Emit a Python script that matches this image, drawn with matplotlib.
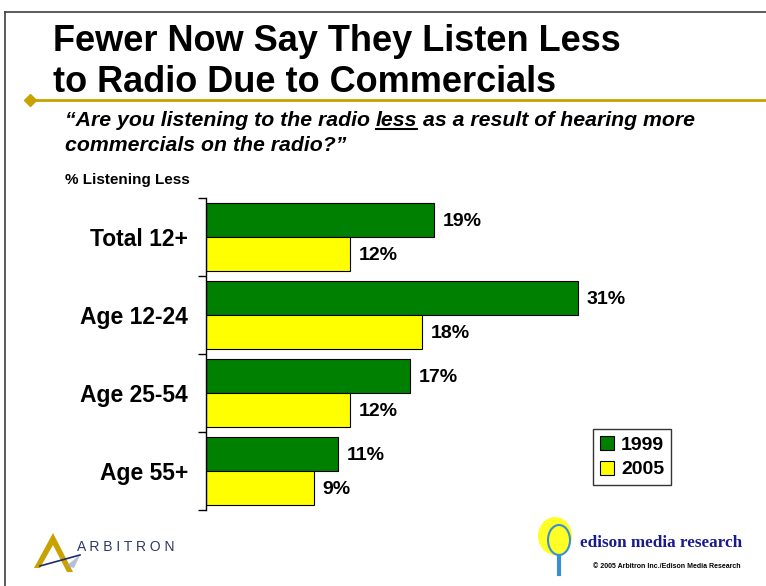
import matplotlib

matplotlib.use("Agg")
import matplotlib.pyplot as plt
from matplotlib.lines import Line2D
from matplotlib.patches import Ellipse, Patch, Polygon
import numpy as np

# Survey results: share saying they listen to radio less because of commercials
categories = ["Total 12+", "Age 12-24", "Age 25-54", "Age 55+"]
pct_1999 = [19, 31, 17, 11]
pct_2005 = [12, 18, 12, 9]
series_labels = ["1999", "2005"]

GREEN = "#008000"
YELLOW = "#FFFF00"
GOLD = "#C8A200"
NAVY = "#1F2A6B"

W, H = 766, 586
plt.rcParams["font.family"] = ["Liberation Sans", "DejaVu Sans"]


def fx(x):
    return x / W


def fy(y):
    return 1 - y / H


fig = plt.figure(figsize=(W / 100, H / 100), dpi=100)
fig.patch.set_facecolor("white")

# slide frame (left and top rule)
fig.add_artist(Line2D([fx(5), fx(5)], [fy(12), fy(586)], color="#404040", lw=1.2))
fig.add_artist(Line2D([fx(5), fx(766)], [fy(12), fy(12)], color="#404040", lw=1.2))

# title
fig.text(fx(53), fy(51), "Fewer Now Say They Listen Less",
         fontsize=26, fontweight="bold", ha="left", va="baseline")
fig.text(fx(53), fy(92), "to Radio Due to Commercials",
         fontsize=26, fontweight="bold", ha="left", va="baseline")

# gold rule with diamond
fig.add_artist(Line2D([fx(30), fx(766)], [fy(100), fy(100)], color=GOLD, lw=2))
fig.add_artist(Line2D([fx(30)], [fy(100)], marker="D", markersize=6, color=GOLD, lw=0))

# question, with "less" underlined
renderer = fig.canvas.get_renderer()
q_kw = dict(fontsize=15.3, fontweight="bold", style="italic",
            ha="left", va="baseline")
part1 = "\u201cAre you listening to the radio"
t1 = fig.text(fx(65), fy(126), part1, **q_kw)
bb1 = t1.get_window_extent(renderer)
probe_a = fig.text(0, 0, "a a", **q_kw)
probe_b = fig.text(0, 0, "aa", **q_kw)
space_w = probe_a.get_window_extent(renderer).width - probe_b.get_window_extent(renderer).width
probe_a.remove()
probe_b.remove()
x_less = bb1.x1 + space_w
t2 = fig.text(x_less / W, fy(126), "less", **q_kw)
bb2 = t2.get_window_extent(renderer)
fig.add_artist(Line2D([bb2.x0 / W, bb2.x1 / W], [fy(129), fy(129)], color="black", lw=1.5))
fig.text((bb2.x1 + space_w) / W, fy(126), "as a result of hearing more", **q_kw)
fig.text(fx(65), fy(151), "commercials on the radio?\u201d", **q_kw)

fig.text(fx(65), fy(184), "% Listening Less", fontsize=11, fontweight="bold",
         ha="left", va="baseline")

# bar chart
ax = fig.add_axes([fx(206), fy(510), 540 / W, 312 / H])
y = np.arange(len(categories))
h = 0.43
bars_a = ax.barh(y - h / 2, pct_1999, height=h, color=GREEN, edgecolor="black", lw=0.8)
bars_b = ax.barh(y + h / 2, pct_2005, height=h, color=YELLOW, edgecolor="black", lw=0.8)
for bars, vals in ((bars_a, pct_1999), (bars_b, pct_2005)):
    for b, v in zip(bars, vals):
        ax.annotate(f"{v}%", (v, b.get_y() + b.get_height() / 2), xytext=(6, -1),
                    textcoords="offset points", ha="left", va="center",
                    fontsize=14, fontweight="bold")

ax.set_xlim(0, 45)
ax.set_ylim(len(categories) - 0.5, -0.5)
for s in ("top", "right", "bottom"):
    ax.spines[s].set_visible(False)
ax.spines["left"].set_linewidth(1)
ax.set_xticks([])
ax.set_yticks(np.arange(-0.5, len(categories), 1.0))
ax.set_yticklabels([])
ax.tick_params(axis="y", which="major", length=6, width=1, direction="out")
ax.set_yticks(y, minor=True)
ax.set_yticklabels(categories, minor=True, fontsize=16.5, fontweight="bold")
ax.tick_params(axis="y", which="minor", length=0, pad=13)
ax.set_facecolor("none")

handles = [Patch(facecolor=GREEN, edgecolor="black", lw=0.8),
           Patch(facecolor=YELLOW, edgecolor="black", lw=0.8)]
leg = fig.legend(handles, series_labels, loc="upper left",
                 bbox_to_anchor=(fx(593), fy(429)), borderaxespad=0,
                 frameon=True, fancybox=False, edgecolor="black",
                 prop={"weight": "bold", "size": 14},
                 handlelength=0.75, handleheight=0.75, handletextpad=0.35,
                 borderpad=0.35, labelspacing=0.35)
leg.get_frame().set_linewidth(1)

# Arbitron mark
fig.add_artist(Polygon([[fx(34), fy(568)], [fx(53), fy(533)], [fx(73), fy(572)],
                        [fx(67), fy(572)], [fx(53), fy(545)], [fx(40), fy(568)]],
                       closed=True, facecolor=GOLD, edgecolor="none"))
fig.add_artist(Line2D([fx(40), fx(80)], [fy(566), fy(555)], color=NAVY, lw=1.2))
fig.add_artist(Polygon([[fx(66), fy(566)], [fx(80), fy(555)], [fx(74), fy(568)]],
                       closed=True, facecolor="#9AA3C8", edgecolor="none", alpha=0.7))
fig.text(fx(77), fy(551), "A R B I T R O N", fontsize=10, color="#2E3868",
         ha="left", va="baseline")

# Edison bulb mark
fig.add_artist(Ellipse((fx(555), fy(536)), 34 / W, 38 / H, facecolor=YELLOW,
                       edgecolor="none", alpha=0.85))
fig.add_artist(Ellipse((fx(559), fy(540)), 22 / W, 30 / H, facecolor="none",
                       edgecolor="#3A8FD0", lw=1.5))
fig.add_artist(Line2D([fx(559), fx(559)], [fy(556), fy(574)], color="#3A8FD0", lw=3))
fig.text(fx(580), fy(547), "edison media research", family="Liberation Serif",
         fontsize=12.3, fontweight="bold", color="#1A1A8C", ha="left", va="baseline")
fig.text(fx(741), fy(568), "\u00a9 2005 Arbitron Inc./Edison Media Research",
         fontsize=5, fontweight="bold", ha="right", va="baseline")

fig.savefig("out.png", dpi=100)
